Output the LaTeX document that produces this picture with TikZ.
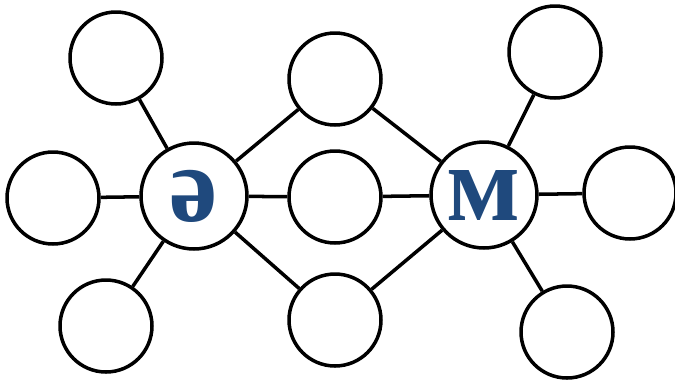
\documentclass[tikz,border=0pt]{standalone}
\usepackage{fontspec}
\newfontfamily\kzfont{Liberation Serif}
\definecolor{letterblue}{RGB}{31,73,125}

\begin{document}
\begin{tikzpicture}[x=0.02cm,y=-0.02cm]
		\tikzset{hub/.style={draw,
							 circle,
							 line width=2pt,
							 minimum size=2.12cm,
							 inner sep=0pt,
							 font=\kzfont\bfseries\fontsize{62}{62}\selectfont,
							 text=letterblue},
				 leaf/.style={draw,
							  circle,
							  line width=2pt,
							  minimum size=1.84cm,
							  inner sep=0pt},
				 link/.style={line width=2pt}}
		\useasboundingbox (0,0) rectangle (675,383);
		% Nodes
		\node[hub] (ae) at (194,196) {ә};
		\node[hub] (em) at (484,195) {м};
		\node[leaf] (topleft) at (116,58) {};
		\node[leaf] (left) at (53,198) {};
		\node[leaf] (botleft) at (106,326) {};
		\node[leaf] (midtop) at (335,79) {};
		\node[leaf] (mid) at (335,197) {};
		\node[leaf] (midbot) at (335,320) {};
		\node[leaf] (topright) at (555,52) {};
		\node[leaf] (right) at (630,193) {};
		\node[leaf] (botright) at (567,332) {};

		% Lines
		\draw[link] (ae) -- (topleft);
		\draw[link] (ae) -- (left);
		\draw[link] (ae) -- (botleft);
		\draw[link] (ae) -- (midtop);
		\draw[link] (ae) -- (mid);
		\draw[link] (ae) -- (midbot);
		\draw[link] (em) -- (midtop);
		\draw[link] (em) -- (mid);
		\draw[link] (em) -- (midbot);
		\draw[link] (em) -- (topright);
		\draw[link] (em) -- (right);
		\draw[link] (em) -- (botright);
	\end{tikzpicture}
\end{document}
